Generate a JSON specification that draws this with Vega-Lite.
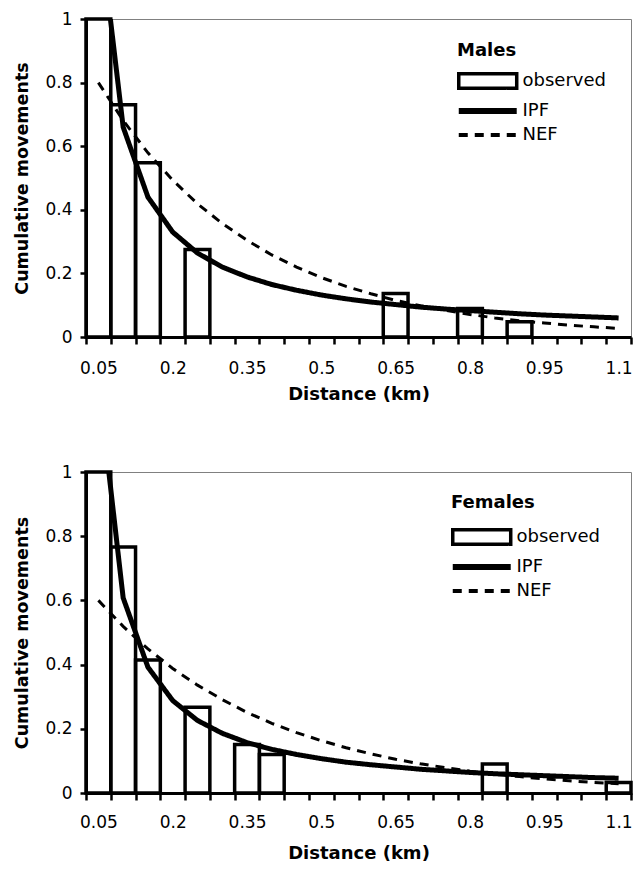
{
  "$schema": "https://vega.github.io/schema/vega-lite/v6.json",
  "background": "white",
  "padding": {"left": 12, "top": 9, "right": 0, "bottom": 0},
  "spacing": 58,
  "datasets": {
    "curves": [
      {"sex":"Males","bin":"0.05","series":"IPF","value":1.32},
      {"sex":"Males","bin":"0.1","series":"IPF","value":0.66},
      {"sex":"Males","bin":"0.15","series":"IPF","value":0.44},
      {"sex":"Males","bin":"0.2","series":"IPF","value":0.33},
      {"sex":"Males","bin":"0.25","series":"IPF","value":0.264},
      {"sex":"Males","bin":"0.3","series":"IPF","value":0.22},
      {"sex":"Males","bin":"0.35","series":"IPF","value":0.189},
      {"sex":"Males","bin":"0.4","series":"IPF","value":0.165},
      {"sex":"Males","bin":"0.45","series":"IPF","value":0.147},
      {"sex":"Males","bin":"0.5","series":"IPF","value":0.132},
      {"sex":"Males","bin":"0.55","series":"IPF","value":0.12},
      {"sex":"Males","bin":"0.6","series":"IPF","value":0.11},
      {"sex":"Males","bin":"0.65","series":"IPF","value":0.102},
      {"sex":"Males","bin":"0.7","series":"IPF","value":0.094},
      {"sex":"Males","bin":"0.75","series":"IPF","value":0.088},
      {"sex":"Males","bin":"0.8","series":"IPF","value":0.083},
      {"sex":"Males","bin":"0.85","series":"IPF","value":0.078},
      {"sex":"Males","bin":"0.9","series":"IPF","value":0.073},
      {"sex":"Males","bin":"0.95","series":"IPF","value":0.069},
      {"sex":"Males","bin":"1","series":"IPF","value":0.066},
      {"sex":"Males","bin":"1.05","series":"IPF","value":0.063},
      {"sex":"Males","bin":"1.1","series":"IPF","value":0.06},
      {"sex":"Males","bin":"0.05","series":"NEF","value":0.8},
      {"sex":"Males","bin":"0.1","series":"NEF","value":0.681},
      {"sex":"Males","bin":"0.15","series":"NEF","value":0.579},
      {"sex":"Males","bin":"0.2","series":"NEF","value":0.493},
      {"sex":"Males","bin":"0.25","series":"NEF","value":0.419},
      {"sex":"Males","bin":"0.3","series":"NEF","value":0.357},
      {"sex":"Males","bin":"0.35","series":"NEF","value":0.304},
      {"sex":"Males","bin":"0.4","series":"NEF","value":0.258},
      {"sex":"Males","bin":"0.45","series":"NEF","value":0.22},
      {"sex":"Males","bin":"0.5","series":"NEF","value":0.187},
      {"sex":"Males","bin":"0.55","series":"NEF","value":0.159},
      {"sex":"Males","bin":"0.6","series":"NEF","value":0.136},
      {"sex":"Males","bin":"0.65","series":"NEF","value":0.115},
      {"sex":"Males","bin":"0.7","series":"NEF","value":0.098},
      {"sex":"Males","bin":"0.75","series":"NEF","value":0.084},
      {"sex":"Males","bin":"0.8","series":"NEF","value":0.071},
      {"sex":"Males","bin":"0.85","series":"NEF","value":0.06},
      {"sex":"Males","bin":"0.9","series":"NEF","value":0.051},
      {"sex":"Males","bin":"0.95","series":"NEF","value":0.044},
      {"sex":"Males","bin":"1","series":"NEF","value":0.037},
      {"sex":"Males","bin":"1.05","series":"NEF","value":0.032},
      {"sex":"Males","bin":"1.1","series":"NEF","value":0.027},
      {"sex":"Females","bin":"0.05","series":"IPF","value":1.285},
      {"sex":"Females","bin":"0.1","series":"IPF","value":0.608},
      {"sex":"Females","bin":"0.15","series":"IPF","value":0.392},
      {"sex":"Females","bin":"0.2","series":"IPF","value":0.288},
      {"sex":"Females","bin":"0.25","series":"IPF","value":0.226},
      {"sex":"Females","bin":"0.3","series":"IPF","value":0.186},
      {"sex":"Females","bin":"0.35","series":"IPF","value":0.157},
      {"sex":"Females","bin":"0.4","series":"IPF","value":0.136},
      {"sex":"Females","bin":"0.45","series":"IPF","value":0.12},
      {"sex":"Females","bin":"0.5","series":"IPF","value":0.107},
      {"sex":"Females","bin":"0.55","series":"IPF","value":0.096},
      {"sex":"Females","bin":"0.6","series":"IPF","value":0.088},
      {"sex":"Females","bin":"0.65","series":"IPF","value":0.081},
      {"sex":"Females","bin":"0.7","series":"IPF","value":0.074},
      {"sex":"Females","bin":"0.75","series":"IPF","value":0.069},
      {"sex":"Females","bin":"0.8","series":"IPF","value":0.064},
      {"sex":"Females","bin":"0.85","series":"IPF","value":0.06},
      {"sex":"Females","bin":"0.9","series":"IPF","value":0.057},
      {"sex":"Females","bin":"0.95","series":"IPF","value":0.054},
      {"sex":"Females","bin":"1","series":"IPF","value":0.051},
      {"sex":"Females","bin":"1.05","series":"IPF","value":0.048},
      {"sex":"Females","bin":"1.1","series":"IPF","value":0.046},
      {"sex":"Females","bin":"0.05","series":"NEF","value":0.6},
      {"sex":"Females","bin":"0.1","series":"NEF","value":0.519},
      {"sex":"Females","bin":"0.15","series":"NEF","value":0.449},
      {"sex":"Females","bin":"0.2","series":"NEF","value":0.388},
      {"sex":"Females","bin":"0.25","series":"NEF","value":0.336},
      {"sex":"Females","bin":"0.3","series":"NEF","value":0.291},
      {"sex":"Females","bin":"0.35","series":"NEF","value":0.251},
      {"sex":"Females","bin":"0.4","series":"NEF","value":0.217},
      {"sex":"Females","bin":"0.45","series":"NEF","value":0.188},
      {"sex":"Females","bin":"0.5","series":"NEF","value":0.163},
      {"sex":"Females","bin":"0.55","series":"NEF","value":0.141},
      {"sex":"Females","bin":"0.6","series":"NEF","value":0.122},
      {"sex":"Females","bin":"0.65","series":"NEF","value":0.105},
      {"sex":"Females","bin":"0.7","series":"NEF","value":0.091},
      {"sex":"Females","bin":"0.75","series":"NEF","value":0.079},
      {"sex":"Females","bin":"0.8","series":"NEF","value":0.068},
      {"sex":"Females","bin":"0.85","series":"NEF","value":0.059},
      {"sex":"Females","bin":"0.9","series":"NEF","value":0.051},
      {"sex":"Females","bin":"0.95","series":"NEF","value":0.044},
      {"sex":"Females","bin":"1","series":"NEF","value":0.038},
      {"sex":"Females","bin":"1.05","series":"NEF","value":0.033},
      {"sex":"Females","bin":"1.1","series":"NEF","value":0.029}
    ],
    "observed": [
      {"sex":"Males","bin":"0.05","value":1.0},
      {"sex":"Males","bin":"0.1","value":0.73},
      {"sex":"Males","bin":"0.15","value":0.548},
      {"sex":"Males","bin":"0.25","value":0.275},
      {"sex":"Males","bin":"0.65","value":0.137},
      {"sex":"Males","bin":"0.8","value":0.09},
      {"sex":"Males","bin":"0.9","value":0.048},
      {"sex":"Females","bin":"0.05","value":1.0},
      {"sex":"Females","bin":"0.1","value":0.766},
      {"sex":"Females","bin":"0.15","value":0.414},
      {"sex":"Females","bin":"0.25","value":0.267},
      {"sex":"Females","bin":"0.35","value":0.151},
      {"sex":"Females","bin":"0.4","value":0.12},
      {"sex":"Females","bin":"0.85","value":0.09},
      {"sex":"Females","bin":"1.1","value":0.033}
    ]
  },
  "resolve": {
    "scale": {"strokeDash": "independent"},
    "legend": {"strokeDash": "independent"}
  },
  "vconcat": [
    {
      "width": 545,
      "height": 318,
      "layer": [
        {
          "data": {"name": "observed"},
          "transform": [{"filter": "datum.sex == 'Males'"}],
          "mark": {"type": "bar", "fill": "white", "fillOpacity": 0, "stroke": "black", "strokeWidth": 3.5},
          "encoding": {
            "x": {"field": "bin", "type": "ordinal",
              "scale": {"type": "band", "paddingInner": 0, "paddingOuter": 0,
                "domain": ["0.05","0.1","0.15","0.2","0.25","0.3","0.35","0.4","0.45","0.5","0.55","0.6","0.65","0.7","0.75","0.8","0.85","0.9","0.95","1","1.05","1.1"]},
              "axis": {"title": "Distance (km)", "tickBand": "extent", "tickSize": 7, "labelAngle": 0, "labelPadding": 16, "titlePadding": 9, "labelOverlap": false,
                "labelExpr": "indexof(['0.05','0.2','0.35','0.5','0.65','0.8','0.95','1.1'], datum.value) >= 0 ? datum.value : ''"}},
            "y": {"field": "value", "type": "quantitative",
              "scale": {"domain": [0, 1], "nice": false, "zero": true},
              "axis": {"title": "Cumulative movements", "values": [0, 0.2, 0.4, 0.6, 0.8, 1], "format": "~g", "tickSize": 6, "labelPadding": 8, "titlePadding": 13.5, "titleFontSize": 17.5}}
          }
        },
        {
          "data": {"name": "curves"},
          "transform": [{"filter": "datum.sex == 'Males' && datum.series == 'IPF'"}],
          "mark": {"type": "line", "clip": true, "color": "black", "strokeWidth": 5, "strokeCap": "butt"},
          "encoding": {
            "x": {"field": "bin", "type": "ordinal"},
            "y": {"field": "value", "type": "quantitative"},
            "strokeDash": {"field": "series", "type": "nominal",
              "scale": {"domain": ["observed", "IPF", "NEF"], "range": [[1, 0], [1, 0], [9, 7]]},
              "legend": {"title": "Males", "orient": "none", "legendX": 371, "legendY": 23, "titlePadding": 12, "rowPadding": 3, "symbolSize": 210, "labelOffset": 47.5,
                "encode": {"symbols": {"update": {
                  "shape": {"signal": "datum.value === 'observed' ? 'M-1,-1H7V1H-1Z' : 'M-1,0H7'"},
                  "strokeWidth": {"signal": "datum.value === 'IPF' ? 6 : datum.value === 'NEF' ? 4 : 3.5"},
                  "strokeDash": {"signal": "datum.value === 'NEF' ? [8, 8] : [1, 0]"},
                  "fill": {"value": "transparent"},
                  "stroke": {"value": "black"}
                }}}}}
          }
        },
        {
          "data": {"name": "curves"},
          "transform": [{"filter": "datum.sex == 'Males' && datum.series == 'NEF'"}],
          "mark": {"type": "line", "clip": true, "color": "black", "strokeWidth": 3, "strokeCap": "butt"},
          "encoding": {
            "x": {"field": "bin", "type": "ordinal"},
            "y": {"field": "value", "type": "quantitative"},
            "strokeDash": {"field": "series", "type": "nominal"}
          }
        }
      ]
    },
    {
      "width": 545,
      "height": 321,
      "layer": [
        {
          "data": {"name": "observed"},
          "transform": [{"filter": "datum.sex == 'Females'"}],
          "mark": {"type": "bar", "fill": "white", "fillOpacity": 0, "stroke": "black", "strokeWidth": 3.5},
          "encoding": {
            "x": {"field": "bin", "type": "ordinal",
              "scale": {"type": "band", "paddingInner": 0, "paddingOuter": 0,
                "domain": ["0.05","0.1","0.15","0.2","0.25","0.3","0.35","0.4","0.45","0.5","0.55","0.6","0.65","0.7","0.75","0.8","0.85","0.9","0.95","1","1.05","1.1"]},
              "axis": {"title": "Distance (km)", "tickBand": "extent", "tickSize": 7, "labelAngle": 0, "labelPadding": 14, "titlePadding": 14, "labelOverlap": false,
                "labelExpr": "indexof(['0.05','0.2','0.35','0.5','0.65','0.8','0.95','1.1'], datum.value) >= 0 ? datum.value : ''"}},
            "y": {"field": "value", "type": "quantitative",
              "scale": {"domain": [0, 1], "nice": false, "zero": true},
              "axis": {"title": "Cumulative movements", "values": [0, 0.2, 0.4, 0.6, 0.8, 1], "format": "~g", "tickSize": 6, "labelPadding": 8, "titlePadding": 13.5, "titleFontSize": 17.5}}
          }
        },
        {
          "data": {"name": "curves"},
          "transform": [{"filter": "datum.sex == 'Females' && datum.series == 'IPF'"}],
          "mark": {"type": "line", "clip": true, "color": "black", "strokeWidth": 5, "strokeCap": "butt"},
          "encoding": {
            "x": {"field": "bin", "type": "ordinal"},
            "y": {"field": "value", "type": "quantitative"},
            "strokeDash": {"field": "series", "type": "nominal",
              "scale": {"domain": ["observed", "IPF", "NEF"], "range": [[1, 0], [1, 0], [9, 7]]},
              "legend": {"title": "Females", "orient": "none", "legendX": 365, "legendY": 22, "titlePadding": 16, "rowPadding": 3, "symbolSize": 210, "labelOffset": 47.5,
                "encode": {"symbols": {"update": {
                  "shape": {"signal": "datum.value === 'observed' ? 'M-1,-1H7V1H-1Z' : 'M-1,0H7'"},
                  "strokeWidth": {"signal": "datum.value === 'IPF' ? 6 : datum.value === 'NEF' ? 4 : 3.5"},
                  "strokeDash": {"signal": "datum.value === 'NEF' ? [8, 8] : [1, 0]"},
                  "fill": {"value": "transparent"},
                  "stroke": {"value": "black"}
                }}}}}
          }
        },
        {
          "data": {"name": "curves"},
          "transform": [{"filter": "datum.sex == 'Females' && datum.series == 'NEF'"}],
          "mark": {"type": "line", "clip": true, "color": "black", "strokeWidth": 3, "strokeCap": "butt"},
          "encoding": {
            "x": {"field": "bin", "type": "ordinal"},
            "y": {"field": "value", "type": "quantitative"},
            "strokeDash": {"field": "series", "type": "nominal"}
          }
        }
      ]
    }
  ],
  "config": {
    "view": {"stroke": "#808080", "strokeWidth": 1},
    "axis": {"domainColor": "black", "domainWidth": 3, "tickColor": "black", "tickWidth": 2.5, "labelColor": "black", "titleColor": "black",
      "labelFont": "DejaVu Sans", "titleFont": "DejaVu Sans", "labelFontSize": 17, "titleFontSize": 18, "titleFontWeight": "bold", "grid": false, "zindex": 1},
    "legend": {"titleFont": "DejaVu Sans", "titleFontSize": 18, "titleFontWeight": "bold", "titleColor": "black",
      "labelFont": "DejaVu Sans", "labelFontSize": 18, "labelColor": "black", "symbolStrokeColor": "black", "symbolFillColor": "transparent"}
  }
}
